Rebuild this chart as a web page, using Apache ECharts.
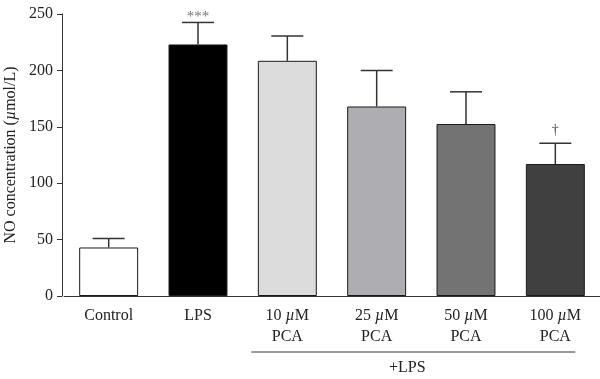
<!DOCTYPE html>
<html><head><meta charset="utf-8">
<script src="https://cdn.jsdelivr.net/npm/echarts@6/dist/echarts.min.js"></script>
<style>html,body{margin:0;padding:0;background:#fff}#c{width:600px;height:379px}</style>
</head><body><div id="c"></div>
<script>
const categories = ['Control', 'LPS', '10 µM\nPCA', '25 µM\nPCA', '50 µM\nPCA', '100 µM\nPCA'];
const means = [43, 223, 208.5, 168, 152.5, 117];
const errors = [8, 19.5, 22, 32, 28.5, 18.5];
const annotations = ['', '***', '', '', '', '†'];
const barColors = ['#ffffff', '#000000', '#dcdcdc', '#aeaeb2', '#737373', '#404040'];
const yTicks = [0, 50, 100, 150, 200, 250];
const groupLabel = '+LPS';

const FONT = '"Liberation Serif", "DejaVu Serif", serif';
const FS = 16;
const chart = echarts.init(document.getElementById('c'), null, {renderer: 'canvas'});

function fmtCat(v) {
  return v.split('\n').map(line => line.split('µ').map(s => '{a|' + s + '}').join('{i|µ}')).join('\n');
}

chart.setOption({
  animation: false,
  grid: {left: 64, right: 0, top: 14, bottom: 83, containLabel: false, outerBoundsMode: 'none'},
  xAxis: {
    type: 'category',
    data: categories,
    axisLine: {lineStyle: {color: '#333', width: 1}},
    axisTick: {alignWithLabel: true, length: 5, lineStyle: {color: '#333'}},
    axisLabel: {
      margin: 9, interval: 0,
      formatter: fmtCat,
      rich: {
        a: {fontFamily: FONT, fontSize: FS, color: '#222', lineHeight: 21},
        i: {fontFamily: FONT, fontSize: FS, color: '#222', fontStyle: 'italic', lineHeight: 21}
      }
    }
  },
  yAxis: {
    type: 'value', min: yTicks[0], max: yTicks[yTicks.length - 1], interval: 50,
    offset: 2,
    axisLine: {show: true, lineStyle: {color: '#333', width: 1}},
    axisTick: {show: true, length: 5, lineStyle: {color: '#333'}},
    splitLine: {show: false},
    axisLabel: {fontFamily: FONT, fontSize: FS, color: '#222', margin: 9},
    name: '{a|NO concentration (}{i|µ}{a|mol/L)}',
    nameLocation: 'middle', nameGap: 43, nameMoveOverlap: false,
    nameTextStyle: {
      rich: {
        a: {fontFamily: FONT, fontSize: FS, color: '#222'},
        i: {fontFamily: FONT, fontSize: FS, color: '#222', fontStyle: 'italic'}
      }
    }
  },
  series: [
    {
      type: 'bar',
      data: means.map((v, i) => ({value: v, itemStyle: {color: barColors[i]}})),
      barCategoryGap: '34%',
      itemStyle: {borderColor: '#1a1a1a', borderWidth: 1}
    },
    {
      type: 'custom',
      data: means.map((v, i) => [i, v, errors[i]]),
      z: 5,
      renderItem: function (params, api) {
        const i = api.value(0), m = api.value(1), e = api.value(2);
        const base = api.coord([i, m]);
        const top = api.coord([i, m + e]);
        const hw = 16;
        const children = [
          {type: 'line', shape: {x1: base[0], y1: base[1], x2: top[0], y2: top[1]}, style: {stroke: '#333', lineWidth: 1.5}},
          {type: 'line', shape: {x1: top[0] - hw, y1: top[1], x2: top[0] + hw, y2: top[1]}, style: {stroke: '#333', lineWidth: 1.5}}
        ];
        const ann = annotations[params.dataIndex];
        if (ann) {
          const star = ann.indexOf('*') >= 0;
          children.push({type: 'text', style: {
            text: ann, x: top[0], y: top[1] + (star ? 2 : -6),
            align: 'center', verticalAlign: 'bottom',
            font: (star ? '15px ' : '14px ') + FONT, fill: star ? '#777' : '#444'
          }});
        }
        return {type: 'group', children: children};
      }
    }
  ]
});

const c2 = chart.convertToPixel({xAxisIndex: 0}, 2);
const c5 = chart.convertToPixel({xAxisIndex: 0}, 5);
const yb = chart.convertToPixel({yAxisIndex: 0}, 0);
chart.setOption({
  graphic: [
    {type: 'line', shape: {x1: c2 - 36, y1: yb + 56, x2: c5 + 20, y2: yb + 56}, style: {stroke: '#333', lineWidth: 1}},
    {type: 'text', style: {text: groupLabel, x: (c2 + c5) / 2 - 14, y: yb + 72, align: 'center', verticalAlign: 'middle', font: FS + 'px ' + FONT, fill: '#222'}}
  ]
});
</script></body></html>
